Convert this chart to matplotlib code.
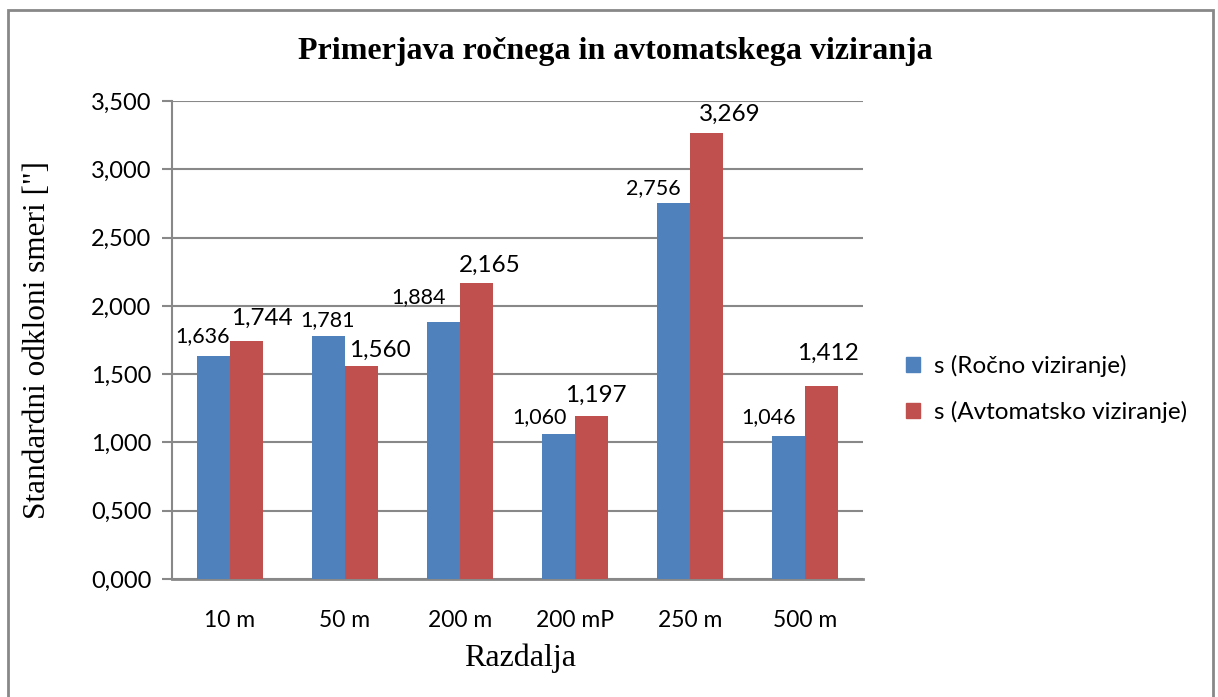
import matplotlib
matplotlib.use('Agg')
import matplotlib.pyplot as plt
import numpy as np
from matplotlib.patches import Rectangle, Patch

# podatki
kategorije = ['10 m', '50 m', '200 m', '200 mP', '250 m', '500 m']
rocno = [1.636, 1.781, 1.884, 1.060, 2.756, 1.046]
avtomatsko = [1.744, 1.560, 2.165, 1.197, 3.269, 1.412]
serije = ['s (Ročno viziranje)', 's (Avtomatsko viziranje)']
y_ticks = [0.0, 0.5, 1.0, 1.5, 2.0, 2.5, 3.0, 3.5]

# zamiki oznak (pikslov) - kot v Excelu
zamik_rocno = [(-11, 19), (-1, 16), (-25, 25), (-19, 17), (-20, 15), (-20, 19)]
zamik_avto = [(16, 22), (19, 16), (13, 18), (4, 20), (23, 18), (6, 33)]

modra = '#4F81BD'
rdeca = '#C0504D'
siva = '#888888'
sans = ['Lato', 'DejaVu Sans']
serif = ['Liberation Serif', 'DejaVu Serif']

def fmt(v):
    return f'{v:.3f}'.replace('.', ',')

fig = plt.figure(figsize=(12.18, 6.97), dpi=100)
ax = fig.add_axes([172/1218, 1-579/697, (863-172)/1218, (579-101)/697])

x = np.arange(len(kategorije))
w = 0.286
b1 = ax.bar(x - w/2, rocno, w, color=modra, zorder=3)
b2 = ax.bar(x + w/2, avtomatsko, w, color=rdeca, zorder=3)

for xi, v, (dx, dy) in zip(x - w/2, rocno, zamik_rocno):
    ax.annotate(fmt(v), (xi, v), xytext=(dx, dy), textcoords='offset pixels',
                ha='center', va='center', fontsize=15.5, family=sans)
for xi, v, (dx, dy) in zip(x + w/2, avtomatsko, zamik_avto):
    ax.annotate(fmt(v), (xi, v), xytext=(dx, dy), textcoords='offset pixels',
                ha='center', va='center', fontsize=17.5, family=sans)

ax.set_xlim(-0.5, len(kategorije) - 0.5)
ax.set_ylim(0, 3.5)
ax.set_yticks(y_ticks)
ax.set_yticklabels([fmt(t) for t in y_ticks], family=sans, fontsize=17)
ax.set_xticks(x)
ax.set_xticklabels(kategorije, family=sans, fontsize=16.5)
ax.tick_params(axis='x', length=0, pad=22)
ax.tick_params(axis='y', length=7, width=1.5, color=siva, pad=8)
ax.yaxis.grid(True, color=siva, lw=1.5, zorder=0)

for s in ['top', 'right']:
    ax.spines[s].set_visible(False)
ax.spines['left'].set_color(siva)
ax.spines['left'].set_linewidth(1.5)
ax.spines['bottom'].set_color(siva)
ax.spines['bottom'].set_linewidth(2)

fig.text(615/1218, 1-52/697, 'Primerjava ročnega in avtomatskega viziranja',
         ha='center', va='center', fontsize=23, fontweight='bold', family=serif)
fig.text(38/1218, 1-340/697, 'Standardni odkloni smeri ["]', rotation=90,
         ha='center', va='center', fontsize=22.5, family=serif)
fig.text(520/1218, 1-658/697, 'Razdalja', ha='center', va='center',
         fontsize=23, family=serif)

handles = [Patch(color=modra), Patch(color=rdeca)]
fig.legend(handles, serije, loc='center left', bbox_to_anchor=(884/1218, 1-389/697),
           frameon=False, prop={'family': sans, 'size': 17.5},
           handlelength=0.6, handleheight=0.6, labelspacing=1.0, handletextpad=0.55)

# okvir grafikona
fig.patches.append(Rectangle((8/1218, -0.05), (1213-8)/1218, 1.05 - 10/697,
                             transform=fig.transFigure, fill=False,
                             edgecolor=siva, lw=2))

fig.savefig('out.png', dpi=100)
